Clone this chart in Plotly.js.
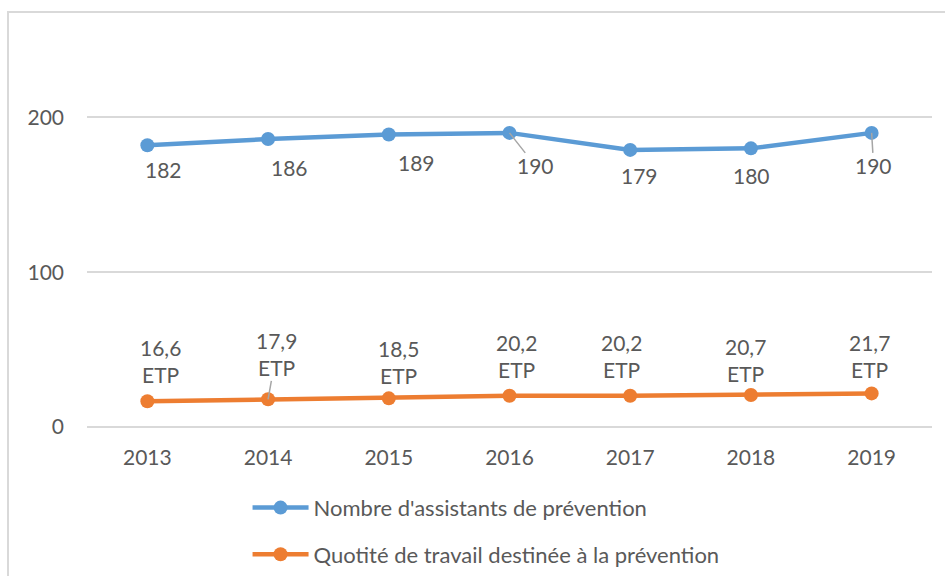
<!DOCTYPE html>
<html>
<head>
<meta charset="utf-8">
<script src="https://cdn.plot.ly/plotly-3.0.1.min.js"></script>
<style>html,body{margin:0;padding:0;background:#fff;}#chart{width:945px;height:576px;}</style>
</head>
<body>
<div id="chart"></div>
<script>
const years = ['2013','2014','2015','2016','2017','2018','2019'];
const assistants = [182, 186, 189, 190, 179, 180, 190];
const quotite = [16.6, 17.9, 18.5, 20.2, 20.2, 20.7, 21.7];
const seriesNames = ["Nombre d'assistants de prévention", "Quotité de travail destinée à la prévention"];
const yTicks = [0, 100, 200];

// label offsets in pixels and leader-line flags (style only)
const blueShift = [[16,24],[21,28],[28,28],[26,33],[9,26],[1,27],[2,33]];
const orangeShift = [[13,-40],[8,-45],[10,-36],[7,-40],[-9,-40],[-5,-35],[-2,-37]];
const blueLeader = [false,false,false,true,false,false,true];
const orangeLeader = [false,true,false,false,false,false,false];

const BLUE = '#5B9BD5', ORANGE = '#ED7D31', TXT = '#595959', GRID = '#D9D9D9', LEAD = '#A6A6A6';
const FONT = 'Lato, "Open Sans", sans-serif';

const fmt = v => v.toFixed(1).replace('.', ',');

const traces = [
  {x: years, y: assistants, name: seriesNames[0], type: 'scatter', mode: 'lines+markers',
   line: {color: BLUE, width: 4.5}, marker: {color: BLUE, size: 14}, legendgroup: 'a', cliponaxis: false},
  {x: years, y: quotite, name: seriesNames[1], type: 'scatter', mode: 'lines+markers',
   line: {color: ORANGE, width: 4.5}, marker: {color: ORANGE, size: 14}, legendgroup: 'b', cliponaxis: false}
];

function label(i, yv, text, shift, leader) {
  const base = {x: i, y: yv, xref: 'x', yref: 'y', text: text,
    font: {family: FONT, size: 21, color: TXT}};
  if (leader) {
    return Object.assign(base, {showarrow: true, ax: shift[0], ay: shift[1], axref: 'pixel', ayref: 'pixel',
      arrowhead: 0, arrowwidth: 1.5, arrowcolor: LEAD, standoff: 0, startstandoff: 0, borderpad: 0});
  }
  return Object.assign(base, {showarrow: false, xshift: shift[0], yshift: -shift[1]});
}

const annotations = [];
years.forEach((yr, i) => {
  annotations.push(label(i, assistants[i], String(assistants[i]), blueShift[i], blueLeader[i]));
  annotations.push(label(i, quotite[i], fmt(quotite[i]) + '<br>ETP', orangeShift[i], orangeLeader[i]));
});

const layout = {
  width: 945, height: 576,
  margin: {l: 87, r: 13, t: 40, b: 149, autoexpand: false},
  paper_bgcolor: '#fff', plot_bgcolor: '#fff',
  font: {family: FONT, color: TXT, size: 21},
  xaxis: {type: 'category', range: [-0.5, 6.5], showgrid: false, showline: false, zeroline: false,
    ticks: '', ticklabelstandoff: 16, tickfont: {family: FONT, size: 21, color: TXT}},
  yaxis: {range: [0, 250], tickvals: yTicks, ticktext: yTicks.map(String), showgrid: true, gridcolor: GRID, gridwidth: 2,
    zeroline: true, zerolinecolor: GRID, zerolinewidth: 2, showline: false, ticks: '',
    ticklabelstandoff: 22, tickfont: {family: FONT, size: 21, color: TXT}},
  showlegend: true,
  legend: {orientation: 'v', x: 0.19, xanchor: 'left', y: -0.1545, yanchor: 'top',
    font: {family: FONT, size: 22, color: TXT}, tracegroupgap: 15, itemwidth: 56, bgcolor: 'rgba(0,0,0,0)'},
  annotations: annotations,
  shapes: [{type: 'rect', xref: 'paper', yref: 'paper', x0: -0.0935, x1: 2, y0: -2, y1: 1.0724,
    line: {color: GRID, width: 2}, fillcolor: 'rgba(0,0,0,0)', layer: 'below'}]
};

Plotly.newPlot('chart', traces, layout, {displayModeBar: false});
</script>
</body>
</html>
